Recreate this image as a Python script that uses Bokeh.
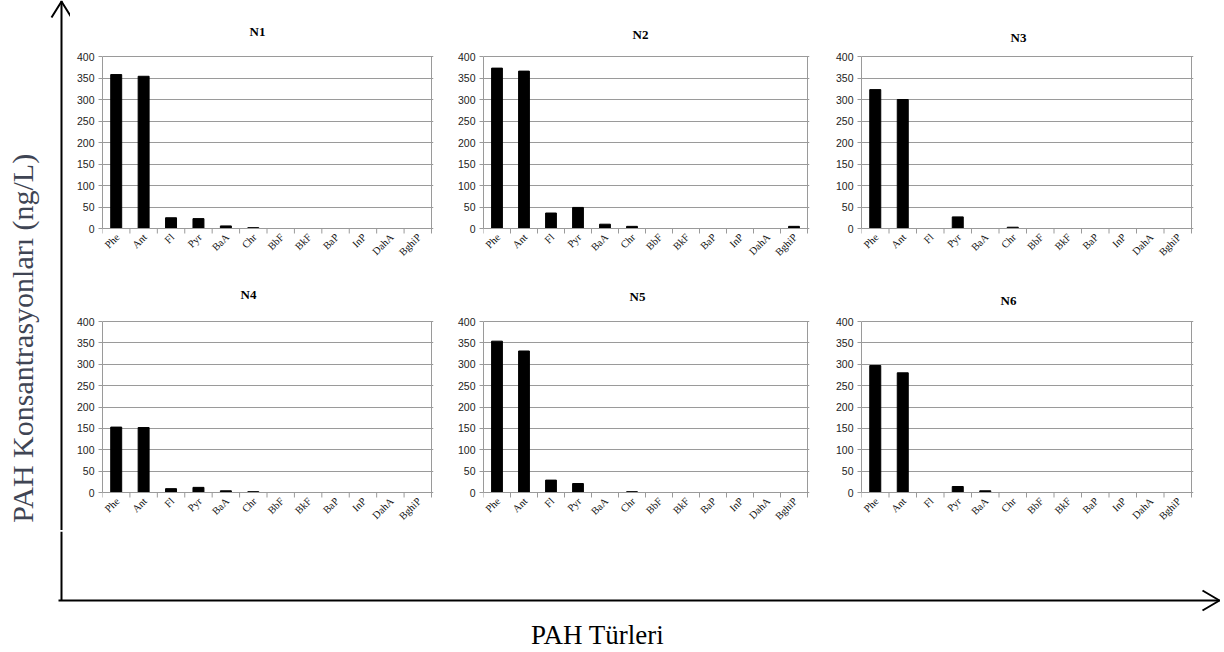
import math
from bokeh.plotting import figure
from bokeh.layouts import row, column
from bokeh.models import Range1d, FixedTicker, ColumnDataSource
from bokeh.core.properties import value
from bokeh.embed import file_html
from bokeh.resources import INLINE

# ---------------- data ----------------
categories = ["Phe", "Ant", "Fl", "Pyr", "BaA", "Chr", "BbF", "BkF", "BaP", "InP", "DahA", "BghiP"]
panel_names = ["N1", "N2", "N3", "N4", "N5", "N6"]
n1 = [358, 354, 25, 23, 6, 2, 0, 0, 0, 0, 0, 0]
n2 = [373, 366, 36, 49, 10, 5, 0, 0, 0, 0, 0, 5]
n3 = [323, 300, 0, 27, 0, 3, 0, 0, 0, 0, 0, 0]
n4 = [153, 152, 9, 12, 4, 2, 0, 0, 0, 0, 0, 0]
n5 = [354, 331, 29, 21, 0, 2, 0, 0, 0, 0, 0, 0]
n6 = [297, 280, 0, 14, 4, 0, 0, 0, 0, 0, 0, 0]
y_ticks = [0, 50, 100, 150, 200, 250, 300, 350, 400]
y_max = 400
y_title = "PAH  Konsantrasyonları (ng/L)"
x_title = "PAH Türleri"

# ---------------- layout (page pixels) ----------------
GRAY = "#9a9a9a"
cols = [(70, 445), (445, 820), (820, 1222)]
col_frames = [(102, 431), (483, 807), (861, 1191)]
rows_ = [(0, 266), (266, 530)]
row_frames = [(56, 228), (320, 491)]
title_x = [257, 640, 1018, 248, 637, 1008]
title_standoff = [33, 28, 22, 37, 33, 25]
LABEL_ANGLE = -7 * math.pi / 4   # 45 degrees, rising to the right


def make_panel(k, vals):
    L, R = col_frames[k % 3]
    T, B = row_frames[k // 3]
    cl, cr = cols[k % 3]
    rt, rb = rows_[k // 3]
    n = len(categories)
    ux = n / (R - L)            # data units per pixel (x)
    uy = y_max / (B - T)        # data units per pixel (y)
    E = rb - B - 1              # label band below the zero line (px)
    p = figure(frame_width=R - L + 2, frame_height=(B - T) + E + 1,
               x_range=Range1d(-0.5, n - 0.5 + 2 * ux),
               y_range=Range1d(-E * uy, y_max + 1 * uy),
               x_axis_type=None,
               output_backend="svg", toolbar_location=None,
               title=panel_names[k],
               min_border_left=L - cl, min_border_right=cr - R - 2,
               min_border_top=T - 1 - rt, min_border_bottom=1)
    idx = list(range(n))
    src = ColumnDataSource(dict(x=idx, top=vals, cat=categories))
    p.vbar(x="x", top="top", bottom=0, width=0.4, source=src,
           fill_color="black", line_color="black", line_width=1)

    # category axis: baseline, boundary tick marks and rotated labels
    bnd = [i - 0.5 for i in range(n + 1)]
    p.segment(x0=[-0.5], y0=[0], x1=[n - 0.5], y1=[0], line_color=GRAY, line_width=1)
    p.segment(x0=bnd, y0=[0] * len(bnd), x1=bnd, y1=[-5 * uy] * len(bnd),
              line_color=GRAY, line_width=1)
    p.segment(x0=[n - 0.5], y0=[0], x1=[n - 0.5], y1=[y_max], line_color=GRAY, line_width=1)
    lab = ColumnDataSource(dict(x=[i + 1.5 * ux for i in idx], y=[-7 * uy] * n, text=categories))
    p.text(x="x", y="y", text="text", source=lab, angle=LABEL_ANGLE,
           text_align="right", text_baseline="middle",
           text_font=value("Liberation Serif"), text_font_size="10.5px",
           text_color="#111111")

    p.title.align = "left"
    p.title.offset = title_x[k] - L - 8
    p.title.text_font = "Liberation Serif"
    p.title.text_font_style = "bold"
    p.title.text_font_size = "13px"
    p.title.text_color = "black"
    p.title.standoff = title_standoff[k]

    ya = p.yaxis[0]
    ya.ticker = FixedTicker(ticks=y_ticks)
    ya.bounds = (0, y_max)
    ya.major_tick_out = 4
    ya.major_tick_in = 0
    ya.major_tick_line_color = GRAY
    ya.minor_tick_line_color = None
    ya.axis_line_color = GRAY
    ya.major_label_standoff = 4
    ya.major_label_text_font = "Liberation Sans"
    ya.major_label_text_font_size = "10.5px"
    ya.major_label_text_color = "#222222"

    p.ygrid.ticker = FixedTicker(ticks=y_ticks)
    p.ygrid.grid_line_color = GRAY
    p.ygrid.bounds = (-0.5, n - 0.5)
    p.outline_line_color = None
    return p


panels = [make_panel(k, v) for k, v in enumerate([n1, n2, n3, n4, n5, n6])]

# ---------------- left strip with y arrow ----------------
LW, LH = 70, 530
left = figure(width=LW, height=LH, x_range=Range1d(0, LW), y_range=Range1d(LH, 0),
              x_axis_type=None, y_axis_type=None, output_backend="svg",
              toolbar_location=None, min_border=0)
left.outline_line_color = None
left.segment(x0=[61], y0=[0], x1=[61], y1=[LH], line_color="black", line_width=2)
left.multi_line(xs=[[51, 61, 71]], ys=[[17, 1, 17]], line_color="black", line_width=2)
left.text(x=[22], y=[334], text=[y_title], angle=math.pi / 2,
          text_align="center", text_baseline="middle",
          text_font=value("Liberation Serif"), text_font_size="30px",
          text_color="#3f4554")

# ---------------- bottom strip with x arrow ----------------
BW, BH = 1222, 120
bottom = figure(width=BW, height=BH, x_range=Range1d(0, BW), y_range=Range1d(BH, 0),
                x_axis_type=None, y_axis_type=None, output_backend="svg",
                toolbar_location=None, min_border=0)
bottom.outline_line_color = None
bottom.segment(x0=[61], y0=[0], x1=[61], y1=[69], line_color="black", line_width=2)
bottom.segment(x0=[58], y0=[69], x1=[1219], y1=[69], line_color="black", line_width=2)
bottom.multi_line(xs=[[1202, 1219, 1202]], ys=[[59, 69, 79]], line_color="black", line_width=2)
bottom.text(x=[597], y=[103], text=[x_title], text_align="center", text_baseline="middle",
            text_font=value("Liberation Serif"), text_font_size="27px", text_color="black")

grid = column(row(*panels[:3]), row(*panels[3:]))
layout = column(row(left, grid), bottom)

open("out.html", "w").write(file_html(layout, INLINE))
